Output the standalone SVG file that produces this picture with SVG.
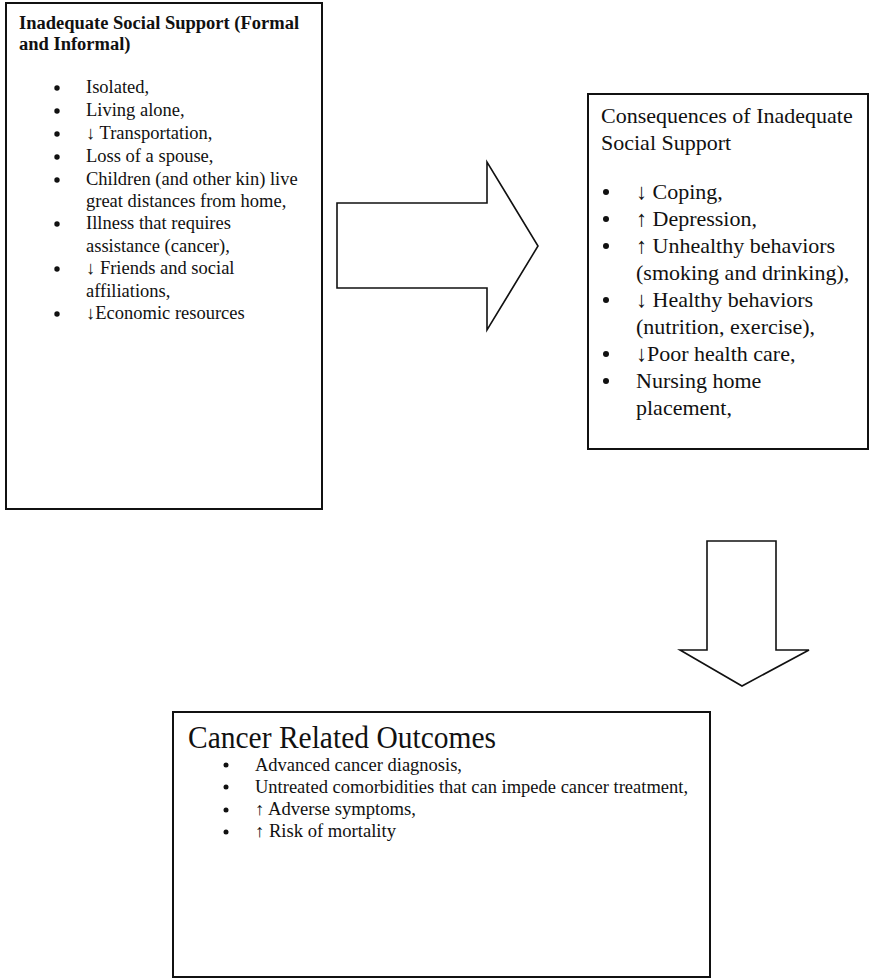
<svg xmlns="http://www.w3.org/2000/svg" width="871" height="978" viewBox="0 0 871 978">
<style>
.box{fill:#fff;stroke:#111;stroke-width:2}
.arr{fill:#fff;stroke:#111;stroke-width:1.6;stroke-linejoin:miter}
.dot{fill:#111}
text{font-family:"Liberation Serif","Times New Roman",serif;fill:#111}
.t1{font-size:18.5px}
.t1b{font-size:18.5px;font-weight:bold}
.t2{font-size:22px}
.t3{font-size:18px}
.t3h{font-size:31px}
</style>
<rect width="871" height="978" fill="#fff"/>
<g id="connectors">
<path class="arr" d="M337,203 H487 V162 L538,246 L487,330 V288 H337 Z"/>
<path class="arr" d="M707,541 H776 V650 H809 L742,686 L680,650 H707 Z"/>
</g>
<g id="node-inadequate">
<rect class="box" x="6" y="3" width="316" height="506"/>
<text class="t1b" x="19" y="29">Inadequate Social Support (Formal</text>
<text class="t1b" x="19" y="50">and Informal)</text>
<g class="dot">
<circle cx="57" cy="88" r="2.7"/><circle cx="57" cy="111" r="2.7"/><circle cx="57" cy="134" r="2.7"/>
<circle cx="57" cy="157" r="2.7"/><circle cx="57" cy="180" r="2.7"/><circle cx="57" cy="224" r="2.7"/>
<circle cx="57" cy="269" r="2.7"/><circle cx="57" cy="314" r="2.7"/>
</g>
<g class="t1">
<text x="86" y="93">Isolated,</text>
<text x="86" y="116">Living alone,</text>
<text x="86" y="139">↓ Transportation,</text>
<text x="86" y="162">Loss of a spouse,</text>
<text x="86" y="185">Children (and other kin) live</text>
<text x="86" y="207">great distances from home,</text>
<text x="86" y="229">Illness that requires</text>
<text x="86" y="252">assistance (cancer),</text>
<text x="86" y="274">↓ Friends and social</text>
<text x="86" y="297">affiliations,</text>
<text x="86" y="319">↓Economic resources</text>
</g>
</g>
<g id="node-consequences">
<rect class="box" x="588" y="94" width="280" height="355"/>
<g class="dot">
<circle cx="606" cy="192" r="3"/><circle cx="606" cy="219" r="3"/><circle cx="606" cy="246" r="3"/>
<circle cx="606" cy="300" r="3"/><circle cx="606" cy="354" r="3"/><circle cx="606" cy="381" r="3"/>
</g>
<g class="t2">
<text x="601" y="123">Consequences of Inadequate</text>
<text x="601" y="150">Social Support</text>
<text x="636" y="199">↓ Coping,</text>
<text x="636" y="226">↑ Depression,</text>
<text x="636" y="253">↑ Unhealthy behaviors</text>
<text x="636" y="280">(smoking and drinking),</text>
<text x="636" y="307">↓ Healthy behaviors</text>
<text x="636" y="334">(nutrition, exercise),</text>
<text x="636" y="361">↓Poor health care,</text>
<text x="636" y="388">Nursing home</text>
<text x="636" y="415">placement,</text>
</g>
</g>
<g id="node-outcomes">
<rect class="box" x="173" y="712" width="537" height="265"/>
<text class="t3h" x="188" y="748" textLength="308" lengthAdjust="spacingAndGlyphs">Cancer Related Outcomes</text>
<g class="dot">
<circle cx="226" cy="765" r="2.5"/><circle cx="226" cy="787" r="2.5"/>
<circle cx="226" cy="810" r="2.5"/><circle cx="226" cy="832" r="2.5"/>
</g>
<g class="t3">
<text x="255" y="771" textLength="207" lengthAdjust="spacingAndGlyphs">Advanced cancer diagnosis,</text>
<text x="255" y="793" textLength="433" lengthAdjust="spacingAndGlyphs">Untreated comorbidities that can impede cancer treatment,</text>
<text x="255" y="815" textLength="161" lengthAdjust="spacingAndGlyphs">↑ Adverse symptoms,</text>
<text x="255" y="837" textLength="141" lengthAdjust="spacingAndGlyphs">↑ Risk of mortality</text>
</g>
</g>
</svg>
